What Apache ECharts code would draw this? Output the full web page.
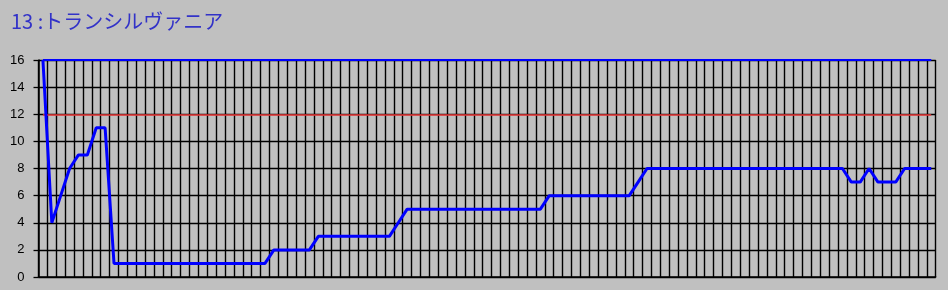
<!DOCTYPE html>
<html>
<head>
<meta charset="utf-8">
<script src="https://cdn.jsdelivr.net/npm/echarts@6/dist/echarts.min.js"></script>
<style>
html,body{margin:0;padding:0;background:#c0c0c0;}
#chart{width:948px;height:290px;}
</style>
</head>
<body>
<div id="chart"></div>
<script>
const titleText = '13 :トランシルヴァニア';
const yTicks = [0, 2, 4, 6, 8, 10, 12, 14, 16];
const categories = Array.from({length: 101}, (_, i) => String(i + 1));
const values = [
  16, 4, 6, 8, 9, 9, 11, 11,
  1, 1, 1, 1, 1, 1, 1, 1, 1, 1, 1, 1, 1, 1, 1, 1, 1, 1,
  2, 2, 2, 2, 2,
  3, 3, 3, 3, 3, 3, 3, 3, 3,
  4,
  5, 5, 5, 5, 5, 5, 5, 5, 5, 5, 5, 5, 5, 5, 5, 5,
  6, 6, 6, 6, 6, 6, 6, 6, 6, 6,
  7,
  8, 8, 8, 8, 8, 8, 8, 8, 8, 8, 8, 8, 8, 8, 8, 8, 8, 8, 8, 8, 8, 8, 8,
  7, 7, 8, 7, 7, 7,
  8, 8, 8, 8
];
const redLevel = 12;
const blueLevel = 16;

const chart = echarts.init(document.getElementById('chart'), null, {renderer: 'canvas'});
chart.setOption({
  backgroundColor: '#c0c0c0',
  animation: false,
  title: {
    text: titleText,
    left: 6,
    top: 6,
    textStyle: {
      fontFamily: '"Noto Sans CJK JP", "Liberation Sans", sans-serif',
      fontWeight: 'normal',
      fontSize: 20,
      color: '#3232c8'
    }
  },
  grid: {left: 38.5, right: 12.3, top: 60, bottom: 13, containLabel: false},
  xAxis: {
    type: 'category',
    data: categories,
    boundaryGap: true,
    axisLine: {show: true, lineStyle: {color: '#000', width: 1.5}},
    axisTick: {show: false},
    axisLabel: {show: false},
    splitLine: {show: true, interval: 0, lineStyle: {color: '#000', width: 1.4}}
  },
  yAxis: {
    type: 'value',
    min: yTicks[0],
    max: yTicks[yTicks.length - 1],
    interval: 2,
    axisLine: {show: true, lineStyle: {color: '#000', width: 1.5}},
    axisTick: {show: true, length: 5, lineStyle: {color: '#000', width: 1.3}},
    axisLabel: {
      margin: 14,
      fontFamily: '"Liberation Sans", Arial, sans-serif',
      fontSize: 13,
      color: '#000'
    },
    splitLine: {show: true, lineStyle: {color: '#000', width: 1.3}}
  },
  series: [{
    type: 'line',
    data: values,
    showSymbol: false,
    symbol: 'none',
    lineStyle: {color: '#0000ff', width: 3},
    z: 5,
    markLine: {
      silent: true,
      symbol: ['none', 'none'],
      label: {show: false},
      z: 3,
      data: [
        [{coord: [categories[0], redLevel], lineStyle: {color: '#f03c3c', width: 1.5, type: 'solid'}},
         {coord: [categories[categories.length - 1], redLevel]}],
        [{coord: [categories[0], blueLevel], lineStyle: {color: '#0000ff', width: 2, type: 'solid'}},
         {coord: [categories[categories.length - 1], blueLevel]}]
      ]
    }
  }]
});
</script>
</body>
</html>
